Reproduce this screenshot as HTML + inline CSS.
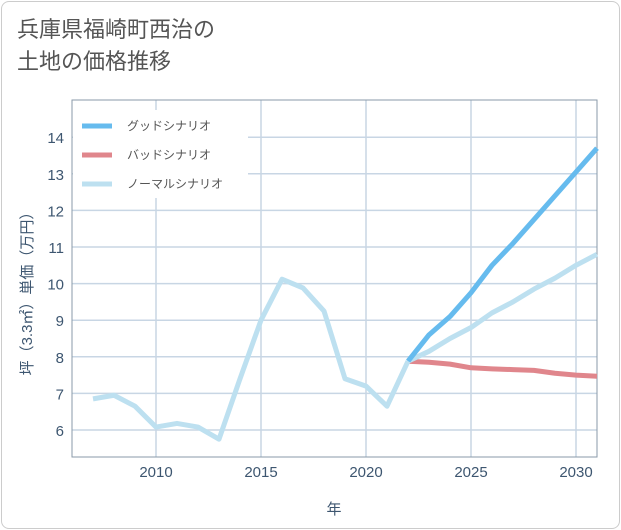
<!DOCTYPE html>
<html><head><meta charset="utf-8">
<style>
html,body{margin:0;padding:0;background:#fff;}
body{width:621px;height:530px;overflow:hidden;font-family:"Liberation Sans","Noto Sans CJK JP",sans-serif;}
.card{position:absolute;left:1px;top:1px;width:617px;height:526px;border:1px solid #ccc;border-radius:8px;background:#fff;}
.title{position:absolute;left:17px;top:14px;font-size:22px;line-height:32px;color:#555;font-family:"Liberation Sans","Noto Sans CJK JP",sans-serif;}
svg{position:absolute;left:0;top:0;}
</style></head><body>
<div class="card"></div>
<div class="title">兵庫県福崎町西治の<br>土地の価格推移</div>
<svg id="chart" width="621" height="530"></svg>
<script>
const years=[2007,2008,2009,2010,2011,2012,2013,2014,2015,2016,2017,2018,2019,2020,2021,2022];
const histValues=[6.85,6.95,6.65,6.08,6.18,6.08,5.75,7.4,9.0,10.12,9.88,9.25,7.4,7.2,6.65,7.88];
const futureYears=[2022,2023,2024,2025,2026,2027,2028,2029,2030,2031];
const goodValues=[7.88,8.6,9.1,9.75,10.5,11.1,11.75,12.4,13.05,13.7];
const badValues=[7.88,7.85,7.8,7.7,7.67,7.65,7.63,7.55,7.5,7.47];
const normalValues=[7.88,8.15,8.5,8.8,9.2,9.5,9.85,10.15,10.5,10.8];
const xTicks=[2010,2015,2020,2025,2030];
const yTicks=[6,7,8,9,10,11,12,13,14];
const legendLabels=["グッドシナリオ","バッドシナリオ","ノーマルシナリオ"];

const L=72,R=597,T=100,B=457;
const x=y=>156+(y-2010)*21;
const yy=v=>430-(v-6)*36.6;
const svg=document.getElementById('chart');
const NS='http://www.w3.org/2000/svg';
function mk(tag,attrs){const e=document.createElementNS(NS,tag);for(const k in attrs)e.setAttribute(k,attrs[k]);svg.appendChild(e);return e;}
xTicks.forEach(t=>{
  const g=mk('line',{x1:x(t),x2:x(t),y1:T,y2:B,stroke:'#c8d6e4','stroke-width':1.5});
  
  
});
yTicks.forEach(v=>{
  const g=mk('line',{x1:L,x2:R,y1:yy(v),y2:yy(v),stroke:'#c8d6e4','stroke-width':1.5});
  
  
});
const frame=mk('rect',{x:L,y:T,width:R-L,height:B-T,fill:'none',stroke:'#8a9aa8','stroke-width':1});


xTicks.forEach(t=>{
  const e=mk('text',{x:x(t),y:477,'text-anchor':'middle','font-size':15,fill:'#3d5670'});
  e.textContent=t;
  
  
});
yTicks.forEach(t=>{
  const e=mk('text',{x:64,y:yy(t)+6,'text-anchor':'end','font-size':15,fill:'#3d5670'});
  e.textContent=t;
  
  
});
const xt=mk('text',{x:334,y:514,'text-anchor':'middle','font-size':15,fill:'#3d5670'});
xt.textContent='年';


const yt=mk('text',{x:0,y:0,'text-anchor':'middle','font-size':15,fill:'#3d5670',transform:'translate(32,290) rotate(-90)'});
yt.textContent='坪（3.3㎡）単価（万円）';


function line(xs,vs,color,name){
  const p=mk('polyline',{points:xs.map((a,i)=>x(a)+','+yy(vs[i])).join(' '),fill:'none',stroke:color,'stroke-width':5,'stroke-linejoin':'round'});
  
  
}
line(futureYears,badValues,'#e0868c','bad-scenario-line');
line(futureYears,normalValues,'#bde0f0','normal-scenario-line');
line(futureYears,goodValues,'#66bbee','good-scenario-line');
line(years,histValues,'#bde0f0','historical-line');
const lb=mk('rect',{x:73,y:110,width:175,height:88,fill:'#fff'});


const colors=['#66bbee','#e0868c','#bde0f0'];
legendLabels.forEach((l,i)=>{
  const ly=126+i*29;
  const s=mk('line',{x1:82,x2:112,y1:ly,y2:ly,stroke:colors[i],'stroke-width':5});
  
  
  const t=mk('text',{x:127,y:ly+4,'font-size':12,fill:'#555'});
  t.textContent=l;
  
  
});
</script>
</body></html>
